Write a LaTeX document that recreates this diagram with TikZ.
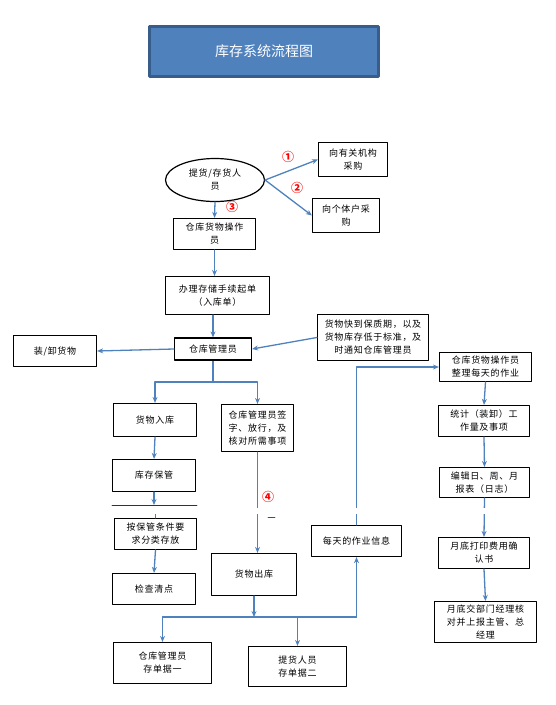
\documentclass[tikz,border=0pt]{standalone}
\usepackage{fontspec}
\setmainfont{Noto Sans CJK SC}
\usetikzlibrary{shapes.geometric,arrows.meta,shadows}
\definecolor{flowblue}{HTML}{4F81BD}
\definecolor{titleedge}{HTML}{385D8A}
\newcommand{\boxfont}{\addfontfeature{LetterSpace=8}\fontsize{9}{13}\selectfont}
\newcommand{\numfont}{\bfseries\fontsize{12}{12}\selectfont}
\tikzset{
  box/.style={draw, line width=1.2pt, fill=white, align=center, inner sep=1pt, font=\boxfont,
    drop shadow={shadow xshift=0.9pt, shadow yshift=-0.9pt, fill=black, opacity=1}},
  arr/.style={draw=flowblue, line width=1.3pt, -{Stealth[length=6pt,width=5pt]}},
  link/.style={draw=flowblue, line width=1.3pt},
  num/.style={text=red, font=\numfont, inner sep=0pt},
}
\begin{document}
\begin{tikzpicture}[x=1pt, y=-1pt, line cap=round, line join=round]
  \useasboundingbox (0,0) rectangle (555,705);
  % title
  \node[draw=titleedge, fill=flowblue, line width=3pt, minimum width=229pt, minimum height=50pt,
    text=white, font=\fontsize{14}{16}\selectfont] (title) at (264,51.5) {库存系统流程图};

  % top part
  \node[draw, ellipse, line width=1.2pt, minimum width=99pt, minimum height=43pt, inner sep=0pt,
    align=center, font=\boxfont] (hr) at (215,180) {提货/存货人\\员};
  \node[box, minimum width=69pt, minimum height=34pt] (jg) at (353,159.5) {向有关机构\\采购};
  \node[box, minimum width=67pt, minimum height=34pt] (gt) at (346,215.5) {向个体户采\\购};
  \node[box, minimum width=82pt, minimum height=31pt] (czy) at (214.5,234) {仓库货物操作\\员};
  \node[box, minimum width=104pt, minimum height=38pt] (bl) at (217.5,295.5) {办理存储手续起单\\（入库单）};
  \node[box, minimum width=77pt, minimum height=22pt] (gly) at (213,349) {仓库管理员};
  \node[box, minimum width=111pt, minimum height=46pt] (bzq) at (373,337.5) {货物快到保质期，以及\\货物库存低于标准，及\\时通知仓库管理员};
  \node[box, minimum width=83pt, minimum height=31pt] (zx) at (55,351) {装/卸货物};

  % left column
  \node[box, minimum width=83pt, minimum height=33pt] (rk) at (155,420) {货物入库};
  \node[box, minimum width=83pt, minimum height=32pt] (bg) at (154,475.5) {库存保管};
  \node[box, minimum width=82pt, minimum height=31pt] (fl) at (155.5,534) {按保管条件要\\求分类存放};
  \node[box, minimum width=83pt, minimum height=31pt] (jc) at (154,589) {检查清点};

  % middle column
  \node[box, minimum width=72pt, minimum height=47pt] (qz) at (257.5,428) {仓库管理员签\\字、放行，及\\核对所需事项};
  \node[box, minimum width=85pt, minimum height=42pt] (ck) at (254,574.5) {货物出库};
  \node[box, minimum width=90pt, minimum height=31pt] (mt) at (356.5,541) {每天的作业信息};
  \node[box, minimum width=98pt, minimum height=41pt] (dj1) at (162.5,663) {仓库管理员\\存单据一};
  \node[box, minimum width=98pt, minimum height=40pt] (dj2) at (297.5,666.5) {提货人员\\存单据二};

  % right column
  \node[box, minimum width=92pt, minimum height=29pt] (zl) at (485.5,367) {仓库货物操作员\\整理每天的作业};
  \node[box, minimum width=91pt, minimum height=31pt] (tj) at (484,421) {统计（装卸）工\\作量及事项};
  \node[box, minimum width=90pt, minimum height=30pt] (bb) at (484.5,482.5) {编辑日、周、月\\报表（日志）};
  \node[box, minimum width=91pt, minimum height=31pt] (qr) at (484,553) {月底打印费用确\\认书};
  \node[box, minimum width=102pt, minimum height=41pt] (zjl) at (485.5,622) {月底交部门经理核\\对并上报主管、总\\经理};

  % connectors
  \draw[arr] (hr.east) -- (jg.west);
  \draw[arr] (hr.east) -- (gt.west);
  \draw[arr] (hr.south) -- (czy.north);
  \draw[arr] (czy.south) -- (czy.south |- bl.north);
  \draw[arr] (bl.south -| gly.north) -- (gly.north);
  \draw[arr] (bzq.west) -- (gly.east);
  \draw[arr] (gly.west) -- (zx.east);

  \coordinate (fen) at (213,382);
  \draw[link, line width=2.4pt, line cap=butt] ([yshift=-0.6pt]gly.south) -- (fen);
  \draw[arr] (fen) -| (rk.north);
  \draw[arr] (fen) -| (qz.north);

  \coordinate (pbl) at (112,505);
  \coordinate (pbr) at (197,505);
  \draw[arr] (rk.south) -- (bg.north);
  \draw[arr] (bg.south) -- (bg.south |- pbl);
  \draw[link] (fl.north) -- ++(0,-5);
  \draw[arr] (fl.south) -- (jc.north);
  \draw[arr] (qz.south) -- (qz.south |- ck.north);

  \coordinate (he) at (255,617);
  \draw[arr] (ck.south) -- (ck.south |- he);
  \draw[link] (dj1.north |- he) -- (mt.south |- he);
  \draw[arr] (dj1.north |- he) -- (dj1.north);
  \draw[arr] (dj2.north |- he) -- (dj2.north);
  \draw[arr] (mt.south |- he) -- (mt.south);
  \draw[arr] (mt.north) |- (zl.west);

  \foreach \a/\b in {zl/tj, tj/bb, bb/qr, qr/zjl}
    \draw[arr] (\a.south) -- (\b.north);

  % page break
  \fill[white] (0,507.5) rectangle (555,513.5);
  \draw[black!80, line width=0.6pt] (pbl) -- (pbr);

  % numbers
  \node[num] (n1) at (288,157) {①};
  \node[num] (n2) at (297,188) {②};
  \node[num] (n3) at (232,207) {③};
  \node[num] (n4) at (268,497) {④};
  \draw[red, line width=0.8pt] (268,517) -- (275,517);
\end{tikzpicture}
\end{document}
